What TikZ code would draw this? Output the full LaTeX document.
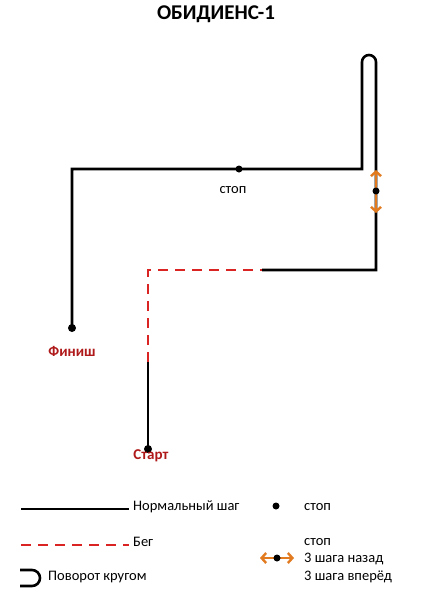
\documentclass[tikz,border=0pt]{standalone}
\usepackage{fontspec}
\setmainfont{Carlito}
\usetikzlibrary{arrows.meta}
\definecolor{runred}{RGB}{218,35,35}
\definecolor{labred}{RGB}{175,25,25}
\definecolor{arrorange}{RGB}{226,122,32}
\tikzset{
  walk/.style={line width=2.6pt,black},
  run/.style={line width=2.6pt,runred,dash pattern=on 10pt off 7pt},
  stopdot/.style={circle,fill=black,inner sep=0pt,minimum size=7pt},
  dbl/.style={line width=2.4pt,arrorange,{Straight Barb[length=4.5pt,width=10pt,line width=2.4pt]}-{Straight Barb[length=4.5pt,width=10pt,line width=2.4pt]}},
  lbl/.style={font=\fontsize{14.5}{16}\selectfont,inner sep=0pt},
  endlbl/.style={font=\fontsize{15}{17}\selectfont\bfseries,text=labred,inner sep=0pt}
}
\begin{document}
\begin{tikzpicture}[x=1pt,y=-1pt]
\useasboundingbox[fill=white] (0,0) rectangle (431,602);
\node[font=\fontsize{21}{24}\selectfont\bfseries] (title) at (216,14) {ОБИДИЕНС-1};
% path coordinates
\coordinate (start) at (148,449);
\coordinate (runA) at (148,362);
\coordinate (runB) at (148,270);
\coordinate (runC) at (262,270);
\coordinate (brc) at (376,270);
\coordinate (rtop) at (376,62);
\coordinate (ltop) at (362,62);
\coordinate (lbot) at (362,169);
\coordinate (tl) at (72,169);
\coordinate (finish) at (72,328);
% course
\draw[walk] (start) -- (runA);
\draw[run] (runA) -- (runB) -- (runC);
\draw[walk,line join=miter] (runC) -- (brc) -- (rtop) arc[start angle=0,end angle=180,radius=7pt] -- (lbot) -- (tl) -- (finish);
\node[stopdot,minimum size=8pt] (sdot) at (148,449) {};
\node[stopdot,minimum size=8pt] (fdot) at (72,328) {};
\node[stopdot] (stop1) at (239,169) {};
\node[lbl] (stop1l) at (233,190) {стоп};
\coordinate (aup) at (376,170);
\coordinate (adn) at (376,213);
\draw[dbl] (aup) -- (adn);
\node[stopdot] (stop2) at (376,191) {};
\node[endlbl] (finl) at (72,351) {Финиш};
\node[endlbl] (stal) at (151,456) {Старт};
% legend
\coordinate (l1a) at (21,509);
\coordinate (l1b) at (129,509);
\draw[walk] (l1a) -- (l1b);
\node[lbl,anchor=west] (l1t) at (133,507) {Нормальный шаг};
\coordinate (l2a) at (21,545);
\coordinate (l2b) at (129,545);
\draw[run] (l2a) -- (l2b);
\node[lbl,anchor=west] (l2t) at (133,542) {Бег};
\coordinate (t1) at (20,570);
\coordinate (t2) at (20,586);
\draw[walk] (t1) -- (32,570) arc[start angle=90,end angle=-90,radius=8pt] -- (t2);
\node[lbl,anchor=west] (l3t) at (48,577) {Поворот кругом};
\node[stopdot] (ldot1) at (276,506) {};
\node[lbl,anchor=west] (ls1) at (304,507) {стоп};
\node[lbl,anchor=west] (ls2) at (304,542) {стоп};
\coordinate (la) at (260,558);
\coordinate (lb) at (294,558);
\draw[dbl] (la) -- (lb);
\node[stopdot] (ldot2) at (277,558) {};
\node[lbl,anchor=west] (ls3) at (304,559) {3 шага назад};
\node[lbl,anchor=west] (ls4) at (304,577) {3 шага вперёд};
\end{tikzpicture}
\end{document}
